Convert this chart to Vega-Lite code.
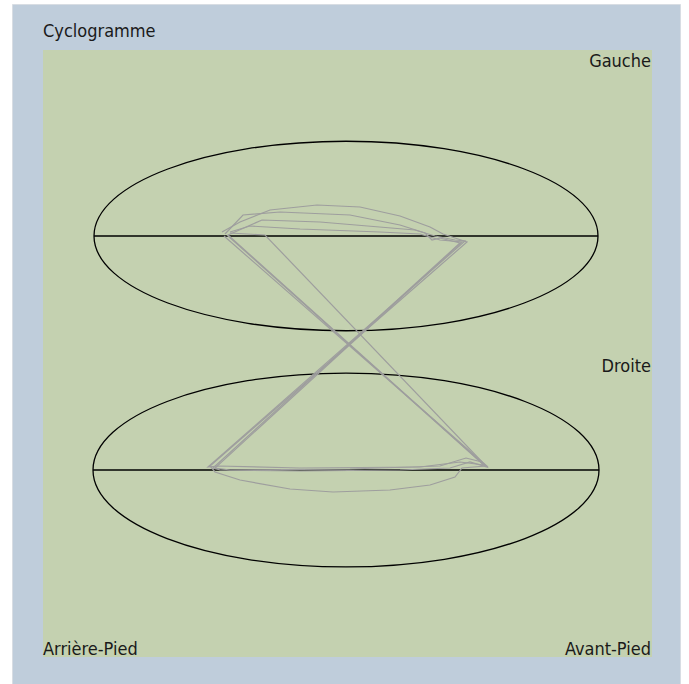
{
  "$schema": "https://vega.github.io/schema/vega-lite/v6.json",
  "width": 668,
  "height": 680,
  "autosize": "none",
  "padding": {"left": 12, "top": 4, "right": 9, "bottom": 0},
  "background": "#ffffff",
  "view": {"fill": "#bfcddb", "stroke": "#d8dde3"},
  "config": {"axis": {"disable": true}},
  "datasets": {
    "panel": [{"x1": -10.2, "x2": 111.6, "y1": 60.6, "y2": -60.8}],
    "traces": [
      {"cycle": 1, "i": 1, "x": 25.6, "y": 24.2},
      {"cycle": 1, "i": 2, "x": 29.2, "y": 26.2},
      {"cycle": 1, "i": 3, "x": 35.2, "y": 28.6},
      {"cycle": 1, "i": 4, "x": 44.6, "y": 29.6},
      {"cycle": 1, "i": 5, "x": 53.2, "y": 29.2},
      {"cycle": 1, "i": 6, "x": 61.2, "y": 27.4},
      {"cycle": 1, "i": 7, "x": 67.2, "y": 25.2},
      {"cycle": 1, "i": 8, "x": 69.8, "y": 23.8},
      {"cycle": 1, "i": 9, "x": 72.2, "y": 23.0},
      {"cycle": 1, "i": 10, "x": 74.6, "y": 22.2},
      {"cycle": 1, "i": 11, "x": 23.2, "y": -22.6},
      {"cycle": 1, "i": 12, "x": 24.2, "y": -23.8},
      {"cycle": 1, "i": 13, "x": 29.2, "y": -25.4},
      {"cycle": 1, "i": 14, "x": 39.2, "y": -27.2},
      {"cycle": 1, "i": 15, "x": 47.8, "y": -27.8},
      {"cycle": 1, "i": 16, "x": 59.2, "y": -27.4},
      {"cycle": 1, "i": 17, "x": 67.2, "y": -26.4},
      {"cycle": 1, "i": 18, "x": 72.2, "y": -24.8},
      {"cycle": 1, "i": 19, "x": 73.6, "y": -23.0},
      {"cycle": 1, "i": 20, "x": 78.2, "y": -22.6},
      {"cycle": 1, "i": 21, "x": 26.6, "y": 23.6},
      {"cycle": 2, "i": 1, "x": 26.2, "y": 23.8},
      {"cycle": 2, "i": 2, "x": 29.8, "y": 27.6},
      {"cycle": 2, "i": 3, "x": 37.2, "y": 28.2},
      {"cycle": 2, "i": 4, "x": 51.2, "y": 27.6},
      {"cycle": 2, "i": 5, "x": 61.2, "y": 25.6},
      {"cycle": 2, "i": 6, "x": 66.2, "y": 24.0},
      {"cycle": 2, "i": 7, "x": 67.6, "y": 22.6},
      {"cycle": 2, "i": 8, "x": 69.2, "y": 23.0},
      {"cycle": 2, "i": 9, "x": 73.2, "y": 22.0},
      {"cycle": 2, "i": 10, "x": 23.8, "y": -23.0},
      {"cycle": 2, "i": 11, "x": 25.2, "y": -23.4},
      {"cycle": 2, "i": 12, "x": 41.2, "y": -23.6},
      {"cycle": 2, "i": 13, "x": 61.2, "y": -23.4},
      {"cycle": 2, "i": 14, "x": 71.2, "y": -23.0},
      {"cycle": 2, "i": 15, "x": 75.2, "y": -21.8},
      {"cycle": 2, "i": 16, "x": 78.6, "y": -22.8},
      {"cycle": 2, "i": 17, "x": 34.2, "y": 23.6},
      {"cycle": 2, "i": 18, "x": 27.2, "y": 24.0},
      {"cycle": 3, "i": 1, "x": 26.8, "y": 23.6},
      {"cycle": 3, "i": 2, "x": 33.6, "y": 26.6},
      {"cycle": 3, "i": 3, "x": 45.2, "y": 26.2},
      {"cycle": 3, "i": 4, "x": 64.2, "y": 24.6},
      {"cycle": 3, "i": 5, "x": 68.2, "y": 23.4},
      {"cycle": 3, "i": 6, "x": 72.2, "y": 22.6},
      {"cycle": 3, "i": 7, "x": 74.2, "y": 22.4},
      {"cycle": 3, "i": 8, "x": 22.8, "y": -22.8},
      {"cycle": 3, "i": 9, "x": 24.8, "y": -22.6},
      {"cycle": 3, "i": 10, "x": 41.2, "y": -23.0},
      {"cycle": 3, "i": 11, "x": 65.2, "y": -22.8},
      {"cycle": 3, "i": 12, "x": 73.2, "y": -21.8},
      {"cycle": 3, "i": 13, "x": 78.0, "y": -22.4},
      {"cycle": 3, "i": 14, "x": 26.8, "y": 23.6},
      {"cycle": 4, "i": 1, "x": 27.2, "y": 24.2},
      {"cycle": 4, "i": 2, "x": 31.2, "y": 25.4},
      {"cycle": 4, "i": 3, "x": 41.2, "y": 24.8},
      {"cycle": 4, "i": 4, "x": 57.2, "y": 24.2},
      {"cycle": 4, "i": 5, "x": 65.2, "y": 23.8},
      {"cycle": 4, "i": 6, "x": 69.2, "y": 22.6},
      {"cycle": 4, "i": 7, "x": 73.6, "y": 22.2},
      {"cycle": 4, "i": 8, "x": 24.2, "y": -23.0},
      {"cycle": 4, "i": 9, "x": 27.2, "y": -23.4},
      {"cycle": 4, "i": 10, "x": 51.2, "y": -23.2},
      {"cycle": 4, "i": 11, "x": 69.2, "y": -22.6},
      {"cycle": 4, "i": 12, "x": 74.4, "y": -21.0},
      {"cycle": 4, "i": 13, "x": 77.6, "y": -21.8},
      {"cycle": 4, "i": 14, "x": 78.8, "y": -22.8},
      {"cycle": 4, "i": 15, "x": 26.0, "y": 23.4}
    ],
    "axes": [
      {"foot": "Gauche", "x1": 0, "x2": 100.8, "y": 23.4},
      {"foot": "Droite", "x1": -0.2, "x2": 101, "y": -23.4}
    ],
    "labelsLeft": [
      {"text": "Cyclogramme", "x": -10.2, "y": 63.2},
      {"text": "Arrière-Pied", "x": -10.2, "y": -60.4}
    ],
    "labelsRight": [
      {"text": "Gauche", "x": 111.4, "y": 57.2},
      {"text": "Droite", "x": 111.4, "y": -3.8},
      {"text": "Avant-Pied", "x": 111.4, "y": -60.4}
    ]
  },
  "encoding": {
    "x": {"field": "x", "type": "quantitative", "scale": {"domain": [-16.4, 117.2], "nice": false, "zero": false}, "axis": null},
    "y": {"field": "y", "type": "quantitative", "scale": {"domain": [-66.2, 69.8], "nice": false, "zero": false}, "axis": null}
  },
  "layer": [
    {
      "data": {"name": "panel"},
      "mark": {"type": "rect", "fill": "#c4d1b0"},
      "encoding": {
        "x": {"field": "x1", "type": "quantitative"},
        "x2": {"field": "x2"},
        "y": {"field": "y1", "type": "quantitative"},
        "y2": {"field": "y2"}
      }
    },
    {
      "data": {"values": [{"x": 50.4, "y": 23.4}]},
      "mark": {"type": "point", "filled": false, "stroke": "#000000", "strokeWidth": 1.3, "opacity": 1, "size": 254016, "shape": "M-1,0A1,0.376,0,1,0,1,0A1,0.376,0,1,0,-1,0Z"}
    },
    {
      "data": {"values": [{"x": 50.4, "y": -23.4}]},
      "mark": {"type": "point", "filled": false, "stroke": "#000000", "strokeWidth": 1.3, "opacity": 1, "size": 256036, "shape": "M-1,0A1,0.383,0,1,0,1,0A1,0.383,0,1,0,-1,0Z"}
    },
    {
      "data": {"name": "axes"},
      "mark": {"type": "rule", "color": "#000000", "strokeWidth": 1.5},
      "encoding": {
        "x": {"field": "x1", "type": "quantitative"},
        "x2": {"field": "x2"},
        "y": {"field": "y", "type": "quantitative"}
      }
    },
    {
      "data": {"name": "traces"},
      "mark": {"type": "line", "color": "#9e9e9e", "strokeWidth": 1.2, "interpolate": "linear"},
      "encoding": {
        "detail": {"field": "cycle", "type": "nominal"},
        "order": {"field": "i", "type": "quantitative"}
      }
    },
    {
      "data": {"name": "labelsLeft"},
      "mark": {"type": "text", "font": "DejaVu Sans Condensed", "fontSize": 18, "color": "#1a1a1a", "baseline": "alphabetic", "align": "left"},
      "encoding": {"text": {"field": "text"}}
    },
    {
      "data": {"name": "labelsRight"},
      "mark": {"type": "text", "font": "DejaVu Sans Condensed", "fontSize": 18, "color": "#1a1a1a", "baseline": "alphabetic", "align": "right"},
      "encoding": {"text": {"field": "text"}}
    }
  ]
}
